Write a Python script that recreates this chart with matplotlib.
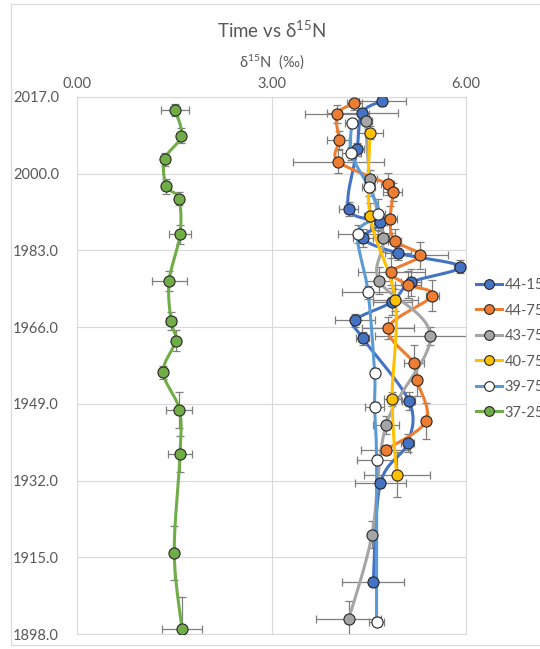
import numpy as np
import matplotlib
matplotlib.use("Agg")
import matplotlib.pyplot as plt
from matplotlib.patches import Rectangle

plt.rcParams['font.family'] = ['Lato', 'DejaVu Sans']
plt.rcParams['mathtext.fontset'] = 'custom'
plt.rcParams['mathtext.rm'] = 'Lato'
plt.rcParams['mathtext.it'] = 'Lato:italic'

TEXT = '#595959'

# ---- data: year, δ15N value, x error (‰), y error (years) ----
names = ["44-150", "44-750", "43-750", "40-750", "39-750", "37-250"]

yr_44_150 = [2016.1, 2013.5, 2005.4, 1992.2, 1989.2, 1985.7, 1982.4, 1979.4, 1975.9, 1971.6,
             1967.5, 1963.5, 1949.6, 1940.3, 1931.4, 1909.6]
n_44_150 = [4.71, 4.40, 4.32, 4.19, 4.68, 4.41, 4.95, 5.91, 5.15, 4.86,
            4.29, 4.41, 5.12, 5.10, 4.68, 4.57]
xe_44_150 = [0.36, 0.55, 0.10, 0.15, 0.10, 0.15, 0.20, 0.10, 0.15, 0.30,
             0.31, 0.10, 0.10, 0.10, 0.39, 0.48]
ye_44_150 = [1.0, 1.0, 1.5, 1.5, 2.0, 2.0, 1.5, 1.5, 3.0, 3.0,
             1.5, 1.5, 2.0, 2.0, 1.0, 1.0]

yr_44_750 = [2015.6, 2013.2, 2007.5, 2002.7, 1997.7, 1995.9, 1989.9, 1985.2, 1981.9, 1978.3,
             1975.4, 1973.0, 1965.8, 1958.0, 1954.3, 1945.3, 1938.8]
n_44_750 = [4.28, 4.01, 4.04, 4.03, 4.79, 4.87, 4.83, 4.90, 5.29, 4.85,
            5.10, 5.48, 4.80, 5.20, 5.24, 5.39, 4.76]
xe_44_750 = [0.12, 0.50, 0.18, 0.70, 0.10, 0.15, 0.10, 0.10, 0.44, 0.51,
             0.20, 0.10, 0.40, 0.15, 0.05, 0.05, 0.38]
ye_44_750 = [1.5, 2.0, 2.0, 2.5, 2.5, 2.0, 3.0, 2.5, 3.0, 3.0,
             3.0, 3.5, 2.5, 4.0, 3.5, 4.0, 1.0]

yr_43_750 = [2011.7, 1998.8, 1985.7, 1976.3, 1964.1, 1944.4, 1920.0, 1901.3]
n_43_750 = [4.45, 4.52, 4.72, 4.66, 5.45, 4.77, 4.55, 4.19]
xe_43_750 = [0.10, 0.10, 0.10, 0.20, 0.85, 0.20, 0.05, 0.50]
ye_43_750 = [1.0, 2.0, 3.0, 3.0, 2.0, 2.0, 3.0, 4.0]

yr_40_750 = [2009.1, 1990.6, 1972.0, 1950.1, 1933.3]
n_40_750 = [4.52, 4.52, 4.91, 4.86, 4.93]
xe_40_750 = [0.20, 0.10, 0.35, 0.13, 0.51]
ye_40_750 = [1.5, 3.0, 2.5, 1.5, 5.0]

yr_39_750 = [2011.2, 2004.5, 1997.0, 1991.0, 1986.7, 1973.7, 1955.9, 1948.4, 1936.6, 1900.7]
n_39_750 = [4.24, 4.23, 4.50, 4.65, 4.33, 4.49, 4.59, 4.59, 4.62, 4.62]
xe_39_750 = [0.10, 0.15, 0.10, 0.10, 0.31, 0.40, 0.05, 0.15, 0.30, 0.12]
ye_39_750 = [1.0, 1.5, 2.0, 3.5, 2.0, 1.5, 1.0, 1.0, 1.0, 1.0]

yr_37_250 = [2014.1, 2008.4, 2003.2, 1997.2, 1994.5, 1986.6, 1976.2, 1967.4, 1963.0, 1956.0,
             1947.7, 1937.9, 1915.9, 1899.2]
n_37_250 = [1.51, 1.61, 1.35, 1.38, 1.57, 1.59, 1.42, 1.45, 1.52, 1.33,
            1.58, 1.59, 1.50, 1.62]
xe_37_250 = [0.21, 0.03, 0.03, 0.03, 0.03, 0.17, 0.27, 0.07, 0.03, 0.03,
             0.20, 0.19, 0.03, 0.31]
ye_37_250 = [1.4, 1.7, 1.5, 1.7, 1.5, 2.1, 2.3, 2.0, 2.3, 1.5,
             4.0, 4.0, 6.0, 7.0]

year_ticks = [2017.0, 2000.0, 1983.0, 1966.0, 1949.0, 1932.0, 1915.0, 1898.0]
value_ticks = [0.0, 3.0, 6.0]

series = [
    (yr_44_150, n_44_150, xe_44_150, ye_44_150),
    (yr_44_750, n_44_750, xe_44_750, ye_44_750),
    (yr_43_750, n_43_750, xe_43_750, ye_43_750),
    (yr_40_750, n_40_750, xe_40_750, ye_40_750),
    (yr_39_750, n_39_750, xe_39_750, ye_39_750),
    (yr_37_250, n_37_250, xe_37_250, ye_37_250),
]
line_colors = ['#4472C4', '#ED7D31', '#A5A5A5', '#FFC000', '#5B9BD5', '#70AD47']
face_colors = ['#4472C4', '#ED7D31', '#A5A5A5', '#FFC000', '#FFFFFF', '#70AD47']


def smooth_curve(x, y, n=40):
    """Cubic Bezier smoothing through the points (Catmull-Rom style)."""
    pts = np.column_stack([x, y]).astype(float)
    if len(pts) < 3:
        return pts[:, 0], pts[:, 1]
    P = np.vstack([pts[0], pts, pts[-1]])
    t = np.linspace(0, 1, n)[:, None]
    segs = []
    for i in range(len(pts) - 1):
        p0, p1, p2, p3 = P[i], P[i + 1], P[i + 2], P[i + 3]
        c1 = p1 + (p2 - p0) / 6.0
        c2 = p2 - (p3 - p1) / 6.0
        b = ((1 - t) ** 3) * p1 + 3 * ((1 - t) ** 2) * t * c1 + 3 * (1 - t) * t ** 2 * c2 + t ** 3 * p2
        segs.append(b if i == 0 else b[1:])
    out = np.vstack(segs)
    return out[:, 0], out[:, 1]


fig = plt.figure(figsize=(5.40, 6.49), dpi=100)
ax = fig.add_axes([77 / 540, 1 - 634 / 649, (466 - 77) / 540, (634 - 97) / 649])

# outer chart border
fig.patches.append(Rectangle((11 / 540, 4 / 649), 1.2, 641 / 649, transform=fig.transFigure,
                             fill=False, edgecolor='#D9D9D9', linewidth=0.8))

handles = []
for (yr, val, xe, ye), name, lc, fc in zip(series, names, line_colors, face_colors):
    ax.errorbar(val, yr, xerr=xe, yerr=ye, fmt='none', ecolor='#7F7F7F',
                elinewidth=0.9, capsize=2.6, capthick=0.9, zorder=2)
    sx, sy = smooth_curve(val, yr)
    ax.plot(sx, sy, color=lc, lw=2.2, zorder=3, solid_capstyle='round')
    ax.plot(val, yr, linestyle='none', marker='o', markersize=8,
            markerfacecolor=fc, markeredgecolor='#262626', markeredgewidth=0.8, zorder=4)
    h, = ax.plot([], [], color=lc, lw=2.2, marker='o', markersize=7,
                 markerfacecolor=fc, markeredgecolor='#262626', markeredgewidth=0.8)
    handles.append(h)

ax.set_xlim(0, 6)
ax.set_ylim(1898, 2017)
ax.set_xticks(value_ticks)
ax.set_xticklabels([f"{v:.2f}" for v in value_ticks])
ax.set_yticks(year_ticks)
ax.set_yticklabels([f"{v:.1f}" for v in year_ticks])
ax.xaxis.tick_top()
ax.xaxis.set_label_position('top')
ax.tick_params(axis='both', length=0, labelsize=10.5, colors=TEXT)
ax.tick_params(axis='x', pad=4)
# left-aligned year labels starting near the chart border
ax.tick_params(axis='y', pad=46)
for lbl in ax.get_yticklabels():
    lbl.set_horizontalalignment('left')

ax.grid(True, color='#D9D9D9', lw=0.8, zorder=0)
ax.set_axisbelow(True)
for sp in ax.spines.values():
    sp.set_color('#D9D9D9')
    sp.set_linewidth(0.8)

fig.text(271.5 / 540, 1 - 30 / 649, 'Time vs δ$^{15}$N', ha='center', va='center',
         fontsize=13.5, color=TEXT)
fig.text(271.5 / 540, 1 - 62 / 649, 'δ$^{15}$N  (‰)', ha='center', va='center',
         fontsize=10.5, color=TEXT)

fig.legend(handles, names, loc='upper left', bbox_to_anchor=(476 / 540, 1 - 278 / 649),
           frameon=False, fontsize=10.5, labelcolor=TEXT, handlelength=1.8,
           handletextpad=0.15, labelspacing=0.79, borderaxespad=0, borderpad=0)

fig.savefig('out.png', dpi=100)
